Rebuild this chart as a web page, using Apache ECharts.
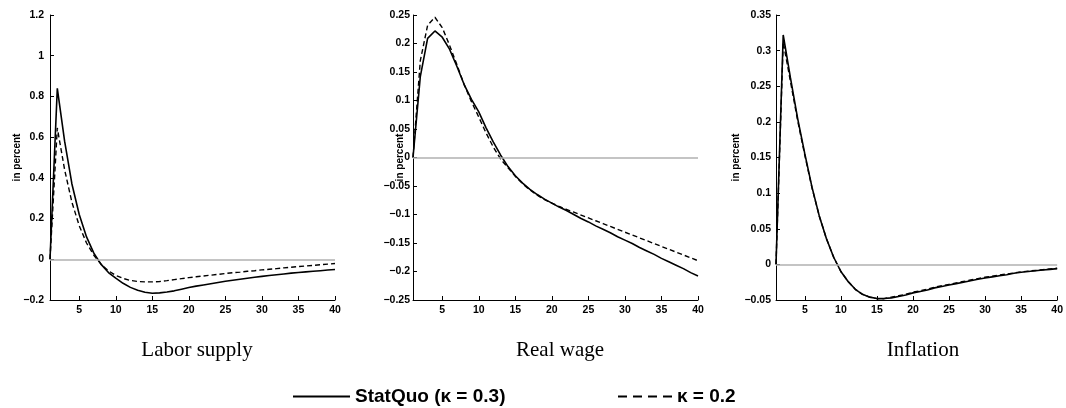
<!DOCTYPE html>
<html>
<head>
<meta charset="utf-8">
<script src="https://cdn.jsdelivr.net/npm/echarts@6/dist/echarts.min.js"></script>
<style>html,body{margin:0;padding:0;background:#fff;}#c{width:1066px;height:408px;}</style>
</head>
<body>
<div id="c"></div>
<script>
const periods = [1,2,3,4,5,6,7,8,9,10,11,12,13,14,15,16,17,18,19,20,21,22,23,24,25,26,27,28,29,30,31,32,33,34,35,36,37,38,39,40];
const xTicks = [5,10,15,20,25,30,35,40];
const panelTitles = ['Labor supply', 'Real wage', 'Inflation'];
const legendNames = ['StatQuo (\u03ba = 0.3)', '\u03ba = 0.2'];

const laborSolid = [0, 0.84, 0.58, 0.37, 0.22, 0.11, 0.03, -0.025, -0.065, -0.093, -0.118, -0.138, -0.152, -0.162, -0.167, -0.165, -0.161, -0.155, -0.147, -0.139, -0.132, -0.126, -0.120, -0.114, -0.108, -0.103, -0.098, -0.093, -0.088, -0.084, -0.080, -0.076, -0.072, -0.068, -0.065, -0.062, -0.059, -0.056, -0.053, -0.050];
const laborDash = [0, 0.645, 0.44, 0.28, 0.165, 0.08, 0.02, -0.025, -0.057, -0.079, -0.094, -0.104, -0.109, -0.111, -0.111, -0.109, -0.105, -0.100, -0.095, -0.090, -0.086, -0.082, -0.078, -0.074, -0.070, -0.066, -0.063, -0.059, -0.056, -0.052, -0.049, -0.046, -0.042, -0.039, -0.036, -0.033, -0.030, -0.027, -0.024, -0.021];

const wageSolid = [0, 0.142, 0.209, 0.222, 0.211, 0.190, 0.160, 0.128, 0.102, 0.080, 0.052, 0.027, 0.004, -0.016, -0.032, -0.045, -0.056, -0.065, -0.073, -0.080, -0.087, -0.093, -0.100, -0.107, -0.113, -0.120, -0.126, -0.132, -0.139, -0.145, -0.151, -0.158, -0.164, -0.170, -0.177, -0.183, -0.189, -0.195, -0.202, -0.208];
const wageDash = [0, 0.17, 0.232, 0.246, 0.228, 0.197, 0.163, 0.128, 0.098, 0.071, 0.043, 0.018, -0.003, -0.018, -0.033, -0.046, -0.057, -0.066, -0.074, -0.080, -0.086, -0.091, -0.096, -0.101, -0.106, -0.111, -0.116, -0.121, -0.126, -0.131, -0.136, -0.141, -0.146, -0.151, -0.156, -0.161, -0.166, -0.171, -0.176, -0.181];

const inflSolid = [0, 0.322, 0.262, 0.205, 0.155, 0.108, 0.068, 0.036, 0.010, -0.010, -0.024, -0.035, -0.042, -0.046, -0.048, -0.048, -0.047, -0.045, -0.043, -0.040, -0.038, -0.036, -0.033, -0.031, -0.029, -0.027, -0.025, -0.023, -0.021, -0.019, -0.0175, -0.016, -0.0145, -0.0125, -0.011, -0.010, -0.009, -0.008, -0.007, -0.006];
const inflDash = [0, 0.312, 0.257, 0.202, 0.153, 0.107, 0.068, 0.036, 0.010, -0.010, -0.024, -0.035, -0.042, -0.046, -0.048, -0.048, -0.046, -0.044, -0.042, -0.039, -0.037, -0.035, -0.032, -0.030, -0.028, -0.026, -0.024, -0.022, -0.020, -0.018, -0.0165, -0.015, -0.0135, -0.012, -0.0105, -0.0095, -0.0085, -0.0075, -0.0065, -0.0055];

const yRanges = [[-0.2, 1.2, 0.2], [-0.25, 0.25, 0.05], [-0.05, 0.35, 0.05]];
const solids = [laborSolid, wageSolid, inflSolid];
const dashes = [laborDash, wageDash, inflDash];

const lefts = [50, 413, 776];
const nameGaps = [28, 8, 35];
const labelMargins = [6, 3, 5];
const tickFont = {fontFamily: 'Liberation Sans, Arial, sans-serif', fontWeight: 'bold', fontSize: 10.5, color: '#000'};

function pairs(arr) { return periods.map((p, i) => [p, arr[i]]); }
function fmt(v) {
  const r = parseFloat(v.toFixed(3));
  return String(r).replace('-', '\u2212');
}

const grids = [], xAxes = [], yAxes = [], series = [], titles = [];
for (let k = 0; k < 3; k++) {
  grids.push({left: lefts[k], top: 15, width: 285, height: 285});
  xAxes.push({
    type: 'value', gridIndex: k, min: 1, max: 40,
    axisLine: {onZero: false, lineStyle: {color: '#000', width: 1}},
    axisTick: {inside: true, length: 4, customValues: xTicks, lineStyle: {color: '#000'}},
    axisLabel: Object.assign({customValues: xTicks, margin: 5}, tickFont),
    splitLine: {show: false}
  });
  yAxes.push({
    type: 'value', gridIndex: k, min: yRanges[k][0], max: yRanges[k][1], interval: yRanges[k][2],
    name: 'in percent', nameLocation: 'middle', nameRotate: 90, nameGap: nameGaps[k], nameMoveOverlap: false,
    nameTextStyle: {fontFamily: 'Liberation Sans, Arial, sans-serif', fontWeight: 'bold', fontSize: 10, color: '#000'},
    axisLine: {show: true, onZero: false, lineStyle: {color: '#000', width: 1}},
    axisTick: {show: true, inside: true, length: 4, lineStyle: {color: '#000'}},
    axisLabel: Object.assign({margin: labelMargins[k], formatter: fmt}, tickFont),
    splitLine: {show: false}
  });
  series.push({
    type: 'line', xAxisIndex: k, yAxisIndex: k, data: [], z: 1, silent: true,
    markLine: {silent: true, symbol: 'none', label: {show: false},
      lineStyle: {color: '#b0b0b0', type: 'solid', width: 1.5}, data: [{yAxis: 0}]}
  });
  series.push({
    name: legendNames[0], type: 'line', xAxisIndex: k, yAxisIndex: k, data: pairs(solids[k]),
    symbol: 'none', showSymbol: false, z: 3,
    lineStyle: {color: '#000', width: 1.6, type: 'solid'}, itemStyle: {color: '#000'}
  });
  series.push({
    name: legendNames[1], type: 'line', xAxisIndex: k, yAxisIndex: k, data: pairs(dashes[k]),
    symbol: 'none', showSymbol: false, z: 2,
    lineStyle: {color: '#000', width: 1.4, type: [5, 3]}, itemStyle: {color: '#000'}
  });
  titles.push({
    text: panelTitles[k], left: lefts[k] + 142, top: 335, textAlign: 'center',
    textStyle: {fontFamily: 'Liberation Serif, Times New Roman, serif', fontWeight: 'normal', fontSize: 21, color: '#000'}
  });
}

const legendText = {fontFamily: 'Liberation Sans, Arial, sans-serif', fontWeight: 'bold', fontSize: 19, color: '#000'};
const solidIcon = 'path://M0,0H57V2H0Z';
const dashIcon = 'path://M0,0h9v2h-9z M15,0h9v2h-9z M30,0h9v2h-9z M45,0h9v2h-9z';
const chart = echarts.init(document.getElementById('c'), null, {renderer: 'canvas'});
chart.setOption({
  animation: false,
  backgroundColor: '#fff',
  title: titles,
  grid: grids,
  xAxis: xAxes,
  yAxis: yAxes,
  legend: [
    {data: [{name: legendNames[0], icon: solidIcon}], left: 293, top: 387, itemWidth: 57, itemHeight: 2,
      itemStyle: {color: '#000', borderWidth: 0}, selectedMode: false, textStyle: legendText, padding: 0},
    {data: [{name: legendNames[1], icon: dashIcon}], left: 618, top: 387, itemWidth: 54, itemHeight: 2,
      itemStyle: {color: '#000', borderWidth: 0}, selectedMode: false, textStyle: legendText, padding: 0}
  ],
  series: series
});
</script>
</body>
</html>
